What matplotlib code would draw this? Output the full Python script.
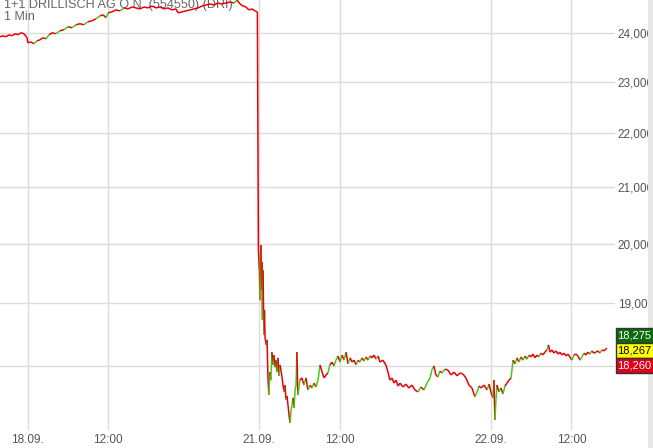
import numpy as np
import matplotlib
matplotlib.use('Agg')
import matplotlib.pyplot as plt
from matplotlib.collections import LineCollection
from matplotlib.patches import Rectangle
from matplotlib.ticker import FixedLocator, NullLocator, FixedFormatter

plt.rcParams['font.family'] = ['Liberation Sans', 'DejaVu Sans']

# time axis: trading hours since 18.09. session open (11.5 h per session)
t_fri = [-1.36, -1.22, -1.07, -0.92, -0.77, -0.62, -0.47, -0.32, -0.17, -0.02,
         0.02, 0.17, 0.32, 0.47, 0.62, 0.77, 0.92, 1.07, 1.22, 1.41,
         1.61, 1.81, 2.01, 2.21, 2.41, 2.61, 2.80, 3.00, 3.20, 3.40,
         3.60, 3.75, 3.90, 4.00, 4.19, 4.39, 4.59, 4.79, 4.99, 5.19,
         5.38, 5.58, 5.78, 5.98, 6.18, 6.38, 6.58, 6.77, 6.97, 7.17,
         7.37, 7.47, 7.67, 7.87, 8.06, 8.26, 8.46, 8.66, 8.86, 9.06,
         9.26, 9.45, 9.65, 9.85, 10.05, 10.25, 10.40, 10.55, 10.69, 10.84,
         10.99, 11.14, 11.29, 11.41]
p_fri = [23.915, 23.936, 23.915, 23.957, 23.936, 23.978, 23.957, 23.999, 23.978, 23.895,
         23.791, 23.811, 23.770, 23.832, 23.853, 23.895, 23.874, 23.957, 23.999, 23.978,
         24.040, 24.061, 24.123, 24.103, 24.165, 24.186, 24.165, 24.227, 24.248, 24.290,
         24.352, 24.373, 24.311, 24.415, 24.435, 24.477, 24.456, 24.519, 24.498, 24.539,
         24.519, 24.498, 24.539, 24.519, 24.560, 24.519, 24.539, 24.498, 24.519, 24.477,
         24.498, 24.415, 24.435, 24.456, 24.477, 24.498, 24.519, 24.560, 24.581, 24.602,
         24.581, 24.623, 24.602, 24.623, 24.643, 24.623, 24.685, 24.602, 24.560, 24.539,
         24.477, 24.498, 24.456, 24.435]

t_mon = [11.46, 11.51, 11.54, 11.56, 11.59, 11.61, 11.64, 11.66, 11.69, 11.71,
         11.74, 11.76, 11.79, 11.84, 11.89, 11.93, 11.98, 12.03, 12.08, 12.13,
         12.18, 12.23, 12.28, 12.33, 12.38, 12.43, 12.48, 12.53, 12.58, 12.63,
         12.68, 12.73, 12.78, 12.83, 12.88, 12.93, 12.98, 13.03, 13.08, 13.13,
         13.18, 13.23, 13.28, 13.33, 13.37, 13.42, 13.47, 13.52, 13.62, 13.72,
         13.82, 13.92, 14.02, 14.12, 14.22, 14.32, 14.42, 14.52, 14.62, 14.72,
         14.82, 14.91, 15.01, 15.11, 15.21, 15.31, 15.41, 15.51, 15.61, 15.71,
         15.81, 15.91, 16.01, 16.11, 16.21, 16.31, 16.40, 16.50, 16.60, 16.70,
         16.80, 16.90, 17.00, 17.10, 17.20, 17.30, 17.40, 17.49, 17.64, 17.79,
         17.89, 17.99, 18.09, 18.19, 18.29, 18.39, 18.49, 18.64, 18.78, 18.93,
         19.08, 19.23, 19.38, 19.53, 19.68, 19.83, 19.98, 20.07, 20.17, 20.27,
         20.37, 20.47, 20.57, 20.72, 20.87, 21.02, 21.17, 21.32, 21.46, 21.61,
         21.76, 21.91, 22.06, 22.21, 22.31, 22.41, 22.51, 22.66, 22.81, 22.91,
         23.00]
p_mon = [19.890, 19.550, 19.050, 19.810, 19.980, 19.220, 19.690, 18.730, 19.550, 19.050,
         18.490, 18.890, 18.455, 18.330, 18.410, 17.860, 17.555, 17.905, 17.780, 18.215,
         18.015, 18.170, 17.980, 18.090, 17.905, 18.125, 17.845, 18.015, 17.935, 17.830,
         17.705, 17.600, 17.705, 17.480, 17.540, 17.400, 17.255, 17.135, 17.325, 17.400,
         17.510, 17.360, 17.630, 17.705, 18.215, 17.555, 17.660, 17.780, 17.815, 17.705,
         17.815, 17.630, 17.705, 17.660, 17.735, 17.675, 17.780, 18.015, 17.905, 17.815,
         17.860, 17.890, 18.015, 18.060, 18.000, 18.090, 18.155, 18.060, 18.170, 18.090,
         18.215, 18.030, 18.125, 18.060, 18.090, 18.015, 18.090, 18.060, 18.125, 18.075,
         18.140, 18.090, 18.155, 18.125, 18.170, 18.105, 18.155, 18.060, 18.090, 18.015,
         17.905, 17.780, 17.815, 17.735, 17.780, 17.690, 17.735, 17.675, 17.720, 17.660,
         17.705, 17.630, 17.600, 17.675, 17.630, 17.735, 17.815, 17.935, 18.000, 17.860,
         17.830, 17.920, 17.890, 17.950, 17.935, 17.860, 17.905, 17.845, 17.890, 17.875,
         17.815, 17.705, 17.660, 17.525, 17.600, 17.690, 17.660, 17.705, 17.630, 17.720,
         17.600]

t_tue = [23.10, 23.15, 23.20, 23.25, 23.30, 23.40, 23.50, 23.60, 23.70, 23.80,
         23.90, 24.00, 24.10, 24.20, 24.29, 24.39, 24.49, 24.59, 24.69, 24.79,
         24.89, 24.99, 25.09, 25.19, 25.29, 25.38, 25.48, 25.58, 25.68, 25.78,
         25.86, 25.93, 26.03, 26.13, 26.23, 26.33, 26.43, 26.53, 26.63, 26.73,
         26.82, 26.92, 27.02, 27.12, 27.22, 27.32, 27.42, 27.52, 27.62, 27.72,
         27.81, 27.91, 28.01, 28.11, 28.21, 28.31, 28.41, 28.51, 28.61, 28.71,
         28.76]
p_tue = [17.510, 17.780, 17.180, 17.480, 17.705, 17.600, 17.660, 17.570, 17.690, 17.735,
         17.780, 17.815, 18.090, 18.030, 18.125, 18.060, 18.140, 18.090, 18.155, 18.105,
         18.170, 18.140, 18.185, 18.125, 18.170, 18.140, 18.200, 18.170, 18.215, 18.250,
         18.330, 18.215, 18.250, 18.200, 18.235, 18.185, 18.215, 18.170, 18.200, 18.155,
         18.185, 18.140, 18.090, 18.170, 18.185, 18.155, 18.090, 18.140, 18.200, 18.170,
         18.215, 18.185, 18.235, 18.200, 18.215, 18.235, 18.200, 18.250, 18.235, 18.265,
         18.280]

x_ticks = [0, 4, 11.5, 15.5, 23, 27]
x_labels = ['18.09.', '12:00', '21.09.', '12:00', '22.09.', '12:00']
y_ticks = [18.0, 19.0, 20.0, 21.0, 22.0, 23.0, 24.0]
quotes = ['18,275', '18,267', '18,260']

t = np.array(t_fri + t_mon + t_tue)
p = np.array(p_fri + p_mon + p_tue)

fig = plt.figure(figsize=(6.53, 4.48), dpi=100)
ax = fig.add_axes([0, 18 / 448, 615 / 653, 430 / 448])

segs = np.stack([np.column_stack([t[:-1], p[:-1]]),
                 np.column_stack([t[1:], p[1:]])], axis=1)
# mostly red candles, green only on the clearer up-moves
cols = np.where(np.diff(p) > 0.05, '#44cc11', '#e8000b')
ax.add_collection(LineCollection(segs, colors=cols, linewidths=1.1, zorder=3))

ax.set_yscale('log')
ax.set_xlim(-1.365, 29.16)
ax.set_ylim(17.031, 24.687)

# 18,000 label sits under the quote boxes
ylabs = [f'{v:.3f}'.replace('.', ',') for v in y_ticks]
ylabs[0] = ''
ax.yaxis.set_major_locator(FixedLocator(y_ticks))
ax.yaxis.set_minor_locator(NullLocator())
ax.yaxis.set_major_formatter(FixedFormatter(ylabs))
ax.yaxis.set_minor_formatter(plt.NullFormatter())
ax.yaxis.tick_right()
ax.set_xticks(x_ticks)
ax.set_xticklabels(x_labels)
ax.tick_params(axis='y', length=0, pad=2, labelsize=8.5, labelcolor='#555555')
ax.tick_params(axis='x', length=0, pad=3, labelsize=8.5, labelcolor='#555555')

ax.grid(True, color='#dcdcdc', linewidth=1)
ax.set_axisbelow(True)
for s in ax.spines.values():
    s.set_visible(False)

ax.text(4 / 615, 1 + 1 / 430, '1+1 DRILLISCH AG O.N. (554550) (DRI)\n1 Min',
        transform=ax.transAxes, va='top', ha='left', fontsize=9.1,
        color='#666666', linespacing=1.05, zorder=1)

# right edge strip
fig.add_artist(Rectangle((648 / 653, 0), 5 / 653, 1, transform=fig.transFigure,
                         facecolor='#e8e8e8', edgecolor='none', zorder=1))

box_cols = ['#0b6b0b', '#ffff00', '#e0001b']
txt_cols = ['white', 'black', 'white']
box_tops = [328, 343, 358]
for q, bc, tc, yt in zip(quotes, box_cols, txt_cols, box_tops):
    fig.add_artist(Rectangle((616 / 653, 1 - (yt + 15) / 448), 45 / 653, 15 / 448,
                             transform=fig.transFigure, facecolor=bc,
                             edgecolor='#333333', linewidth=1, zorder=5))
    fig.text(617.5 / 653, 1 - (yt + 7.5) / 448, q, color=tc, fontsize=8,
             va='center', ha='left', zorder=6)

fig.savefig('out.png', dpi=100)
